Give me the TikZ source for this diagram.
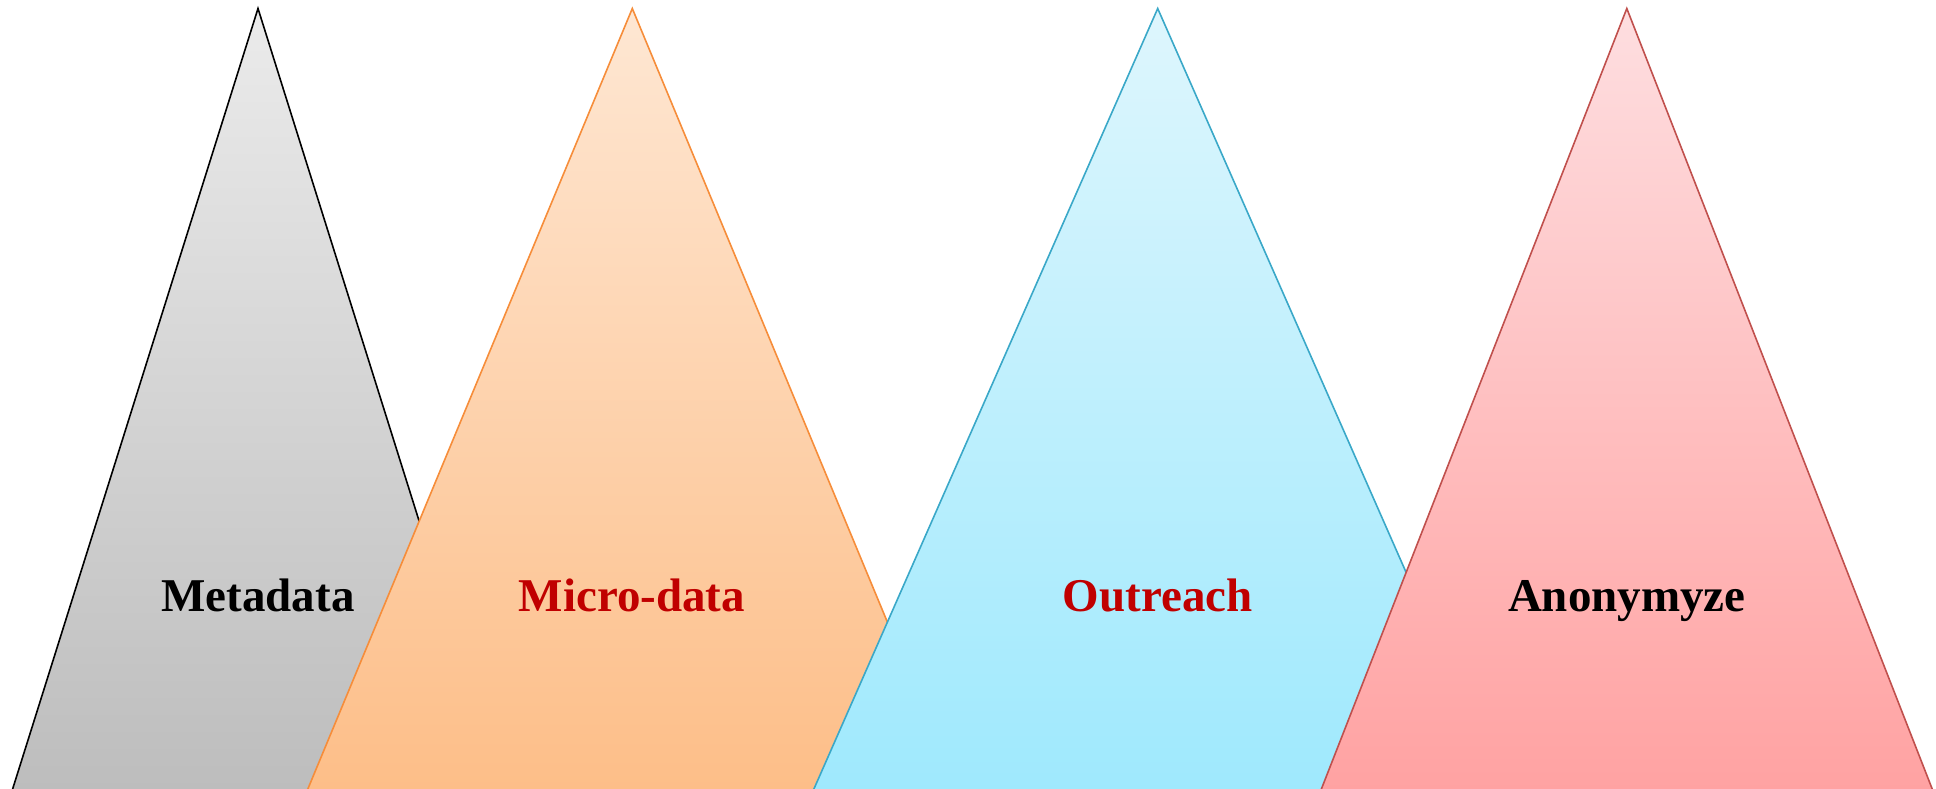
\documentclass[tikz,border=0pt]{standalone}
\usepackage{fontspec}
\setmainfont{Liberation Serif}
\definecolor{grayline}{HTML}{000000}
\definecolor{graytop}{HTML}{EBEBEB}
\definecolor{graybot}{HTML}{BDBDBD}
\definecolor{orline}{HTML}{F68D3A}
\definecolor{ortop}{HTML}{FEE7D3}
\definecolor{orbot}{HTML}{FDBE88}
\definecolor{cyline}{HTML}{3AA8C8}
\definecolor{cytop}{HTML}{DEF6FD}
\definecolor{cybot}{HTML}{9FE9FD}
\definecolor{rdline}{HTML}{C0504D}
\definecolor{rdtop}{HTML}{FEDEE0}
\definecolor{rdbot}{HTML}{FFA2A2}
\definecolor{labelred}{HTML}{C00000}
\begin{document}
\begin{tikzpicture}[x=1pt,y=-1pt,
  tri/.style={line width=1.6pt, line join=miter},
  lbl/.style={anchor=base, inner sep=0pt, font=\fontsize{47}{56}\selectfont\bfseries}]
\useasboundingbox (0,0) rectangle (1936,789);
\begin{scope}
\clip (0,0) rectangle (1936,789);
\draw[tri, draw=grayline, top color=graytop, bottom color=graybot]
  (258,8.5) -- (12,791) -- (504,791) -- cycle;
\draw[tri, draw=orline, top color=ortop, bottom color=orbot]
  (632.3,8.5) -- (307,791) -- (957.6,791) -- cycle;
\draw[tri, draw=cyline, top color=cytop, bottom color=cybot]
  (1157.7,8.5) -- (813,791) -- (1502.4,791) -- cycle;
\draw[tri, draw=rdline, top color=rdtop, bottom color=rdbot]
  (1626.8,8.5) -- (1320.6,791) -- (1933,791) -- cycle;
\end{scope}
\node[lbl, text=black] (meta) at (258,611.7) {Metadata};
\node[lbl, text=labelred] (micro) at (632,611.7) {Micro-data};
\node[lbl, text=labelred] (outr) at (1157.7,611.7) {Outreach};
\node[lbl, text=black] (anon) at (1626.8,611.7) {Anonymyze};
\end{tikzpicture}
\end{document}
